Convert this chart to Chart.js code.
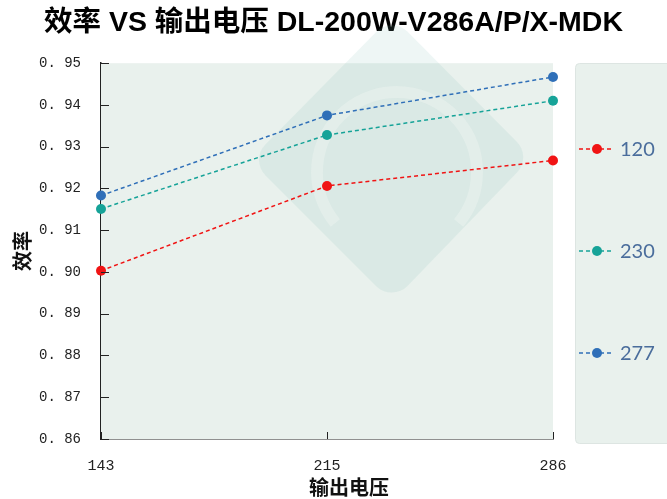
<!DOCTYPE html>
<html>
<head>
<meta charset="utf-8">
<script src="https://cdn.jsdelivr.net/npm/chart.js@4/dist/chart.umd.min.js"></script>
<style>
  html, body { margin: 0; padding: 0; background: #fff; }
  #wrap { width: 667px; height: 499px; }
</style>
</head>
<body>
<div id="wrap"><canvas id="effChart" width="667" height="499"></canvas></div>
<script>
// 输出电压 (x categories)
const voltages = ['143', '215', '286'];
// 输入电压系列
const seriesNames = ['120', '230', '277'];
const eff120 = [0.9003, 0.9206, 0.9267];
const eff230 = [0.9151, 0.9328, 0.9410];
const eff277 = [0.9183, 0.9375, 0.9467];
const colors = ['#f01414', '#16a398', '#2f6fb8'];
const yTicks = [0.86, 0.87, 0.88, 0.89, 0.90, 0.91, 0.92, 0.93, 0.94, 0.95];

const cnFont = '"Noto Sans CJK SC", "Noto Sans", sans-serif';
const titleFont = '"Liberation Sans", Arial, "Noto Sans CJK SC", sans-serif';
const monoFont = '"Liberation Mono", "DejaVu Sans Mono", monospace';

// background of plot + faint watermark
const plotBg = {
  id: 'plotBg',
  beforeDatasetsDraw(chart) {
    const { ctx, chartArea: a } = chart;
    ctx.save();
    ctx.fillStyle = '#e9f1ed';
    ctx.fillRect(a.left, a.top, a.right - a.left, a.bottom - a.top);

    // legend panel
    ctx.fillStyle = '#e9f1ed';
    ctx.strokeStyle = '#dde5e2';
    ctx.lineWidth = 1;
    ctx.beginPath();
    ctx.roundRect(575.5, 63.5, 100, 380, 4);
    ctx.fill();
    ctx.stroke();

    // watermark (rounded diamond + ring)
    const pts = [[392, 16], [532, 157], [392, 302], [250, 160]];
    ctx.fillStyle = 'rgba(120, 185, 175, 0.13)';
    ctx.beginPath();
    ctx.moveTo((pts[3][0] + pts[0][0]) / 2, (pts[3][1] + pts[0][1]) / 2);
    for (let i = 0; i < 4; i++) {
      const p = pts[i], n = pts[(i + 1) % 4];
      ctx.arcTo(p[0], p[1], n[0], n[1], 22);
    }
    ctx.closePath();
    ctx.fill();
    ctx.strokeStyle = 'rgba(236, 243, 240, 0.5)';
    ctx.lineWidth = 12;
    ctx.beginPath();
    ctx.arc(397, 172, 80, Math.PI * 0.78, Math.PI * 2.22);
    ctx.stroke();
    ctx.restore();
  },
  afterDraw(chart) {
    const { ctx, chartArea: a, scales } = chart;
    ctx.save();
    // inward ticks
    ctx.strokeStyle = '#222';
    ctx.lineWidth = 1;
    ctx.beginPath();
    scales.y.ticks.forEach((t, i) => {
      const y = Math.round(scales.y.getPixelForTick(i)) + 0.5;
      ctx.moveTo(a.left, y);
      ctx.lineTo(a.left + 8, y);
    });
    scales.x.ticks.forEach((t, i) => {
      const x = Math.round(scales.x.getPixelForTick(i)) + 0.5;
      ctx.moveTo(x, a.bottom);
      ctx.lineTo(x, a.bottom - 7);
    });
    ctx.stroke();

    // x axis title
    ctx.fillStyle = '#111';
    ctx.font = 'bold 20px ' + cnFont;
    ctx.textAlign = 'center';
    ctx.textBaseline = 'middle';
    ctx.fillText('输出电压', 349, 487);

    // legend entries
    chart.data.datasets.forEach((ds, i) => {
      const y = 149 + i * 102;
      ctx.strokeStyle = ds.borderColor;
      ctx.lineWidth = 1.5;
      ctx.setLineDash([4, 3]);
      ctx.beginPath();
      ctx.moveTo(579, y);
      ctx.lineTo(612, y);
      ctx.stroke();
      ctx.setLineDash([]);
      ctx.fillStyle = ds.borderColor;
      ctx.beginPath();
      ctx.arc(597, y, 5, 0, Math.PI * 2);
      ctx.fill();
      ctx.fillStyle = '#4a6d9c';
      ctx.font = '20px Lato, "Open Sans", sans-serif';
      ctx.textAlign = 'left';
      ctx.fillText(ds.label, 620, y + 1);
    });
    ctx.restore();
  }
};

function line(label, data, color) {
  return {
    label: label,
    data: data,
    borderColor: color,
    backgroundColor: color,
    borderWidth: 1.5,
    borderDash: [4, 3],
    pointRadius: 5,
    pointHoverRadius: 5,
    pointBorderWidth: 0,
    tension: 0
  };
}

new Chart(document.getElementById('effChart'), {
  type: 'line',
  data: {
    labels: voltages,
    datasets: [
      line(seriesNames[0], eff120, colors[0]),
      line(seriesNames[1], eff230, colors[1]),
      line(seriesNames[2], eff277, colors[2])
    ]
  },
  plugins: [plotBg],
  options: {
    responsive: false,
    animation: false,
    layout: { padding: 0 },
    plugins: {
      legend: { display: false },
      tooltip: { enabled: false },
      title: {
        display: true,
        text: '效率 VS 输出电压 DL-200W-V286A/P/X-MDK',
        color: '#000',
        font: { family: titleFont, size: 28.5, weight: 'bold' },
        padding: { top: 6, bottom: 23 }
      }
    },
    scales: {
      x: {
        offset: false,
        grid: { display: false, drawTicks: false },
        border: { color: '#222', width: 1.5 },
        ticks: {
          color: '#222',
          padding: 18,
          maxRotation: 0,
          font: { family: monoFont, size: 15 }
        },
        afterFit(scale) { scale.height = 60; }
      },
      y: {
        min: 0.86,
        max: 0.95,
        afterBuildTicks(scale) { scale.ticks = yTicks.map(v => ({ value: v })); },
        grid: { display: false, drawTicks: false },
        border: { color: '#222', width: 1.5 },
        ticks: {
          color: '#222',
          padding: 20,
          font: { family: monoFont, size: 14 },
          callback: v => v.toFixed(2).replace('.', '. ')
        },
        title: {
          display: true,
          text: '效率',
          color: '#111',
          font: { family: cnFont, size: 20, weight: 'bold' },
          padding: { top: 10, bottom: 0 }
        },
        afterFit(scale) { scale.width = 101; }
      },
      // empty right-hand axis that reserves room for the legend panel
      side: {
        position: 'right',
        grid: { display: false, drawTicks: false },
        border: { display: false },
        ticks: { display: false },
        afterFit(scale) { scale.width = 114; }
      }
    }
  }
});
</script>
</body>
</html>
